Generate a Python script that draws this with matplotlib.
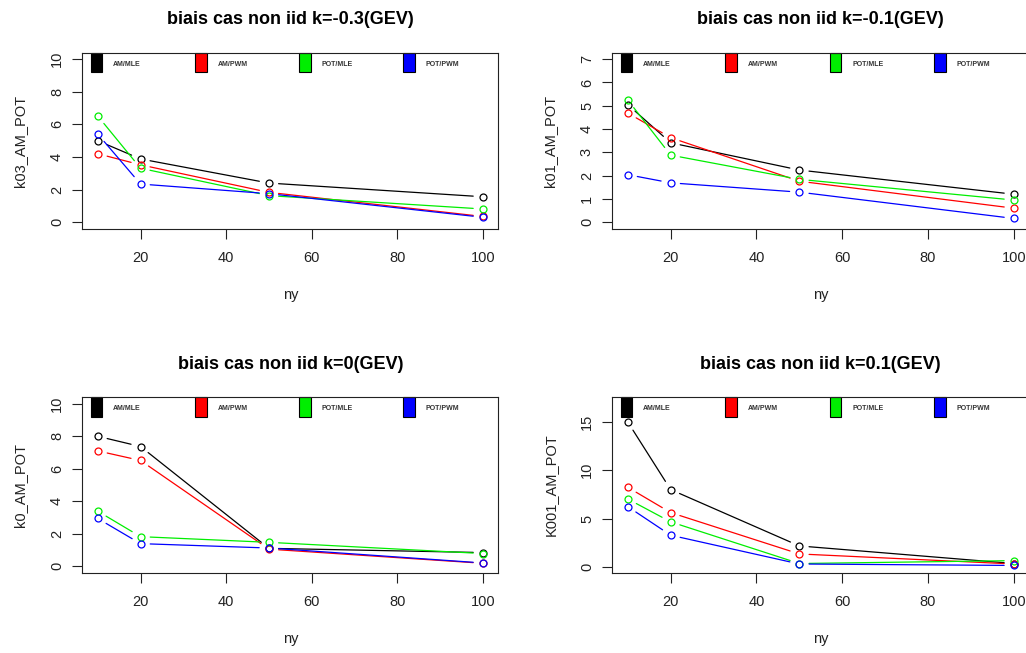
import matplotlib
matplotlib.use("Agg")
import matplotlib.pyplot as plt
from matplotlib.patches import Rectangle

plt.rcParams['font.family'] = ['Liberation Sans', 'DejaVu Sans']

ny = [10, 20, 50, 100]
methods = ["AM/MLE", "AM/PWM", "POT/MLE", "POT/PWM"]
colors = ["black", "red", "#00ee00", "blue"]

# one list per method: AM/MLE, AM/PWM, POT/MLE, POT/PWM
k03_values = [[5.0, 3.88, 2.40, 1.56],
              [4.20, 3.52, 1.83, 0.35],
              [6.52, 3.31, 1.63, 0.81],
              [5.41, 2.34, 1.75, 0.30]]
k01_values = [[5.05, 3.41, 2.24, 1.20],
              [4.69, 3.63, 1.76, 0.60],
              [5.25, 2.88, 1.84, 0.95],
              [2.04, 1.69, 1.29, 0.16]]
k0_values = [[8.00, 7.37, 1.10, 0.84],
             [7.10, 6.51, 1.05, 0.18],
             [3.39, 1.82, 1.47, 0.78],
             [2.94, 1.39, 1.12, 0.20]]
k001_values = [[15.0, 8.00, 2.17, 0.35],
               [8.24, 5.62, 1.34, 0.30],
               [7.03, 4.66, 0.35, 0.65],
               [6.24, 3.28, 0.30, 0.15]]

titles = ["biais cas non iid k=-0.3(GEV)", "biais cas non iid k=-0.1(GEV)",
          "biais cas non iid k=0(GEV)", "biais cas non iid k=0.1(GEV)"]
ylabels = ["k03_AM_POT", "k01_AM_POT", "k0_AM_POT", "K001_AM_POT"]
ylims = [(-0.4, 10.4), (-0.28, 7.28), (-0.4, 10.4), (-0.6, 17.55)]
yticks = [range(0, 11, 2), range(0, 8), range(0, 11, 2), range(0, 16, 5)]
panels = [k03_values, k01_values, k0_values, k001_values]

W, H = 1026, 653
fig = plt.figure(figsize=(W / 100, H / 100), dpi=100)
# axes boxes in pixels: left, top, width, height
boxes = [(82.3, 52.7, 416, 176), (612.3, 52.7, 417, 176),
         (82.3, 397.3, 416, 175.4), (612.3, 397.3, 417, 175.4)]

ink = "#222222"

def draw_b(ax, x, y, color):
    # R type="b": points with lines that stop short of them
    for i in range(len(x) - 1):
        ax.annotate("", xy=(x[i + 1], y[i + 1]), xytext=(x[i], y[i]),
                    arrowprops=dict(arrowstyle="-", color=color, lw=0.9,
                                    shrinkA=7, shrinkB=7))
    ax.plot(x, y, "o", mfc="none", mec=color, ms=5, mew=0.9)

for k in range(4):
    l, t, w, h = boxes[k]
    ax = fig.add_axes([l / W, 1 - (t + h) / H, w / W, h / H])
    ax.set_xlim(6.4, 103.6)
    ax.set_ylim(*ylims[k])
    for vals, c in zip(panels[k], colors):
        draw_b(ax, ny, vals, c)

    ax.set_xticks([20, 40, 60, 80, 100])
    ax.set_yticks(list(yticks[k]))
    ax.tick_params(direction="out", length=7.2, width=0.8, color=ink,
                   labelsize=10.5, labelcolor=ink)
    ax.tick_params(axis="x", pad=8.5)
    ax.tick_params(axis="y", pad=6, labelrotation=90)
    for lab in ax.get_yticklabels():
        lab.set_va("center")
    for sp in ax.spines.values():
        sp.set_color(ink)
        sp.set_linewidth(0.8)

    ax.set_title(titles[k], fontsize=13, fontweight="bold", pad=20.5)
    ax.set_xlabel("ny", fontsize=10.5, color=ink)
    ax.set_ylabel(ylabels[k], fontsize=10.5, color=ink)
    ax.xaxis.set_label_coords(0.5, -59 / h)
    ax.yaxis.set_label_coords(-55 / w, 0.5)

    # horizontal legend across the top of the panel
    for j, (m, c) in enumerate(zip(methods, colors)):
        x0 = 8.4 / w + j * 0.2505
        ax.add_patch(Rectangle((x0, 1 - 19.6 / h), 11.6 / w, 19.6 / h,
                               transform=ax.transAxes, facecolor=c,
                               edgecolor="black", lw=0.8, clip_on=False))
        ax.text(x0 + 22.6 / w, 1 - 11.3 / h, m, transform=ax.transAxes,
                fontsize=5, fontweight="bold", color="#333333",
                va="center", ha="left")

fig.savefig("out.png", dpi=100)
